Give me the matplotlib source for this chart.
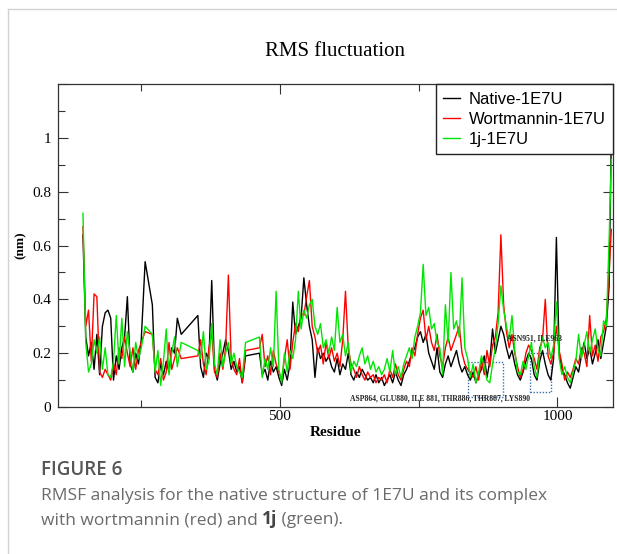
import matplotlib
matplotlib.use("Agg")
import matplotlib.pyplot as plt
from matplotlib.lines import Line2D
from matplotlib.patches import Rectangle
from matplotlib.ticker import FixedLocator, MultipleLocator, FuncFormatter

# =========================
# data
# =========================
residue = [
    # segment 1
    145, 150, 155, 160, 165, 170, 175, 180, 185, 190,
    195, 200, 205, 210, 215, 220, 225, 230, 235, 240,
    245, 250, 257,
    # segment 2
    270, 275, 280, 285, 290, 295, 300, 305, 310, 315,
    322,
    # segment 3
    352, 357, 362, 367, 372, 377, 382, 387, 392, 397,
    402, 407, 412, 417, 422, 427, 432, 438,
    # segment 4
    463, 468, 473, 478, 483, 488, 493, 498, 503, 508,
    513, 518, 523, 528, 533, 538, 543, 548, 553, 558,
    563, 568, 573, 578, 583, 588, 593, 598, 603, 608,
    613, 618, 623, 628, 633, 638, 643, 648, 653, 658,
    663, 668, 673, 678, 683, 688, 693, 698, 703, 708,
    713, 718, 723, 728, 733, 738, 743, 748, 753, 758,
    763, 768, 773, 778, 783, 788, 793, 798, 803, 808,
    813, 818, 823, 828, 833, 838, 843, 848, 853, 858,
    863, 868, 873, 878, 883, 888, 893, 898, 903, 908,
    913, 918, 923, 928, 933, 938, 943, 948, 953, 958,
    963, 968, 973, 978, 983, 988, 993, 998, 1003, 1008,
    1013, 1018, 1023, 1028, 1033, 1038, 1043, 1048, 1053, 1058,
    1063, 1068, 1073, 1078, 1083, 1088, 1093, 1097,
]

native = [
    0.64, 0.26, 0.19, 0.24, 0.14, 0.27, 0.12, 0.30, 0.35, 0.36,
    0.33, 0.10, 0.19, 0.14, 0.22, 0.26, 0.41, 0.16, 0.13, 0.20,
    0.16, 0.25, 0.54,
    0.38, 0.11, 0.09, 0.16, 0.12, 0.17, 0.13, 0.22, 0.20, 0.33,
    0.27,
    0.34, 0.15, 0.11, 0.20, 0.18, 0.47, 0.14, 0.10, 0.16, 0.20,
    0.25, 0.21, 0.14, 0.17, 0.13, 0.15, 0.09, 0.19,
    0.20, 0.12, 0.14, 0.10, 0.17, 0.13, 0.15, 0.11, 0.08, 0.14,
    0.10, 0.16, 0.39, 0.27, 0.30, 0.33, 0.48, 0.38, 0.30, 0.25,
    0.11, 0.22, 0.18, 0.20, 0.17, 0.19, 0.15, 0.13, 0.18, 0.12,
    0.16, 0.14, 0.20, 0.12, 0.10, 0.13, 0.11, 0.14, 0.12, 0.10,
    0.11, 0.09, 0.12, 0.09, 0.11, 0.08, 0.10, 0.12, 0.09, 0.13,
    0.10, 0.08, 0.12, 0.14, 0.17, 0.20, 0.22, 0.26, 0.28, 0.24,
    0.27, 0.20, 0.17, 0.14, 0.22, 0.13, 0.11, 0.16, 0.19, 0.15,
    0.18, 0.21, 0.16, 0.13, 0.15, 0.12, 0.10, 0.13, 0.09, 0.12,
    0.14, 0.19, 0.11, 0.17, 0.29, 0.20, 0.25, 0.30, 0.27, 0.22,
    0.18, 0.21, 0.16, 0.12, 0.10, 0.13, 0.17, 0.20, 0.18, 0.12,
    0.10, 0.17, 0.21, 0.16, 0.12, 0.10, 0.18, 0.63, 0.20, 0.14,
    0.12, 0.09, 0.07, 0.11, 0.15, 0.13, 0.19, 0.24, 0.18, 0.22,
    0.16, 0.20, 0.25, 0.18, 0.24, 0.30, 0.45, 1.01,
]

wortmannin = [
    0.67, 0.30, 0.36, 0.17, 0.42, 0.41, 0.13, 0.11, 0.14, 0.12,
    0.10, 0.16, 0.12, 0.22, 0.18, 0.26, 0.20, 0.15, 0.22, 0.14,
    0.21, 0.24, 0.28,
    0.27, 0.14, 0.12, 0.18, 0.10, 0.13, 0.24, 0.14, 0.18, 0.22,
    0.18,
    0.19, 0.25, 0.16, 0.12, 0.22, 0.28, 0.13, 0.11, 0.20, 0.14,
    0.22, 0.49, 0.18, 0.14, 0.12, 0.18, 0.09, 0.21,
    0.22, 0.27, 0.15, 0.19, 0.12, 0.21, 0.16, 0.13, 0.10, 0.18,
    0.25, 0.14, 0.24, 0.31, 0.28, 0.35, 0.34, 0.41, 0.47, 0.30,
    0.26, 0.20, 0.23, 0.16, 0.24, 0.18, 0.22, 0.17, 0.20, 0.15,
    0.25, 0.43, 0.22, 0.16, 0.14, 0.11, 0.15, 0.12, 0.10, 0.13,
    0.11, 0.12, 0.09, 0.11, 0.10, 0.12, 0.09, 0.14, 0.11, 0.16,
    0.12, 0.10, 0.14, 0.17, 0.15, 0.22, 0.19, 0.27, 0.33, 0.36,
    0.25, 0.30, 0.24, 0.21, 0.27, 0.19, 0.15, 0.22, 0.26, 0.21,
    0.24, 0.27, 0.30, 0.20, 0.16, 0.14, 0.13, 0.11, 0.15, 0.10,
    0.18, 0.12, 0.21, 0.15, 0.23, 0.26, 0.35, 0.64, 0.38, 0.28,
    0.22, 0.27, 0.20, 0.15, 0.11, 0.14, 0.20, 0.23, 0.21, 0.18,
    0.14, 0.22, 0.25, 0.40, 0.19, 0.16, 0.20, 0.30, 0.21, 0.16,
    0.10, 0.13, 0.11, 0.14, 0.18, 0.16, 0.22, 0.20, 0.15, 0.34,
    0.19, 0.23, 0.17, 0.26, 0.28, 0.33, 0.50, 0.66,
]

cmpd_1j = [
    0.72, 0.24, 0.13, 0.16, 0.25, 0.20, 0.26, 0.14, 0.22, 0.12,
    0.11, 0.17, 0.34, 0.16, 0.33, 0.15, 0.28, 0.20, 0.13, 0.24,
    0.18, 0.22, 0.30,
    0.27, 0.13, 0.21, 0.08, 0.17, 0.29, 0.12, 0.20, 0.26, 0.15,
    0.24,
    0.21, 0.18, 0.28, 0.14, 0.17, 0.31, 0.16, 0.12, 0.25, 0.15,
    0.20, 0.24, 0.16, 0.20, 0.15, 0.13, 0.11, 0.24,
    0.26, 0.11, 0.18, 0.14, 0.22, 0.15, 0.43, 0.14, 0.09, 0.20,
    0.13, 0.21, 0.18, 0.25, 0.43, 0.29, 0.36, 0.33, 0.38, 0.40,
    0.30, 0.27, 0.31, 0.22, 0.25, 0.20, 0.26, 0.21, 0.37, 0.24,
    0.27, 0.19, 0.24, 0.13, 0.17, 0.15, 0.19, 0.22, 0.16, 0.19,
    0.14, 0.17, 0.13, 0.15, 0.12, 0.14, 0.18, 0.13, 0.21, 0.12,
    0.15, 0.11, 0.16, 0.19, 0.22, 0.18, 0.26, 0.30, 0.35, 0.53,
    0.34, 0.37, 0.29, 0.31, 0.24, 0.22, 0.12, 0.38, 0.24, 0.50,
    0.29, 0.32, 0.26, 0.48, 0.22, 0.18, 0.11, 0.16, 0.09, 0.13,
    0.19, 0.15, 0.10, 0.09, 0.16, 0.22, 0.31, 0.45, 0.36, 0.30,
    0.25, 0.34, 0.21, 0.13, 0.12, 0.17, 0.14, 0.19, 0.24, 0.15,
    0.11, 0.20, 0.26, 0.22, 0.24, 0.18, 0.23, 0.39, 0.18, 0.12,
    0.15, 0.11, 0.09, 0.13, 0.17, 0.27, 0.18, 0.23, 0.28, 0.20,
    0.25, 0.29, 0.21, 0.19, 0.32, 0.30, 0.62, 0.92,
]

series_labels = ["Native-1E7U", "Wortmannin-1E7U", "1j-1E7U"]
series_colors = ["#000000", "#ff0000", "#00e600"]

# highlighted residue windows: (res start, res end, rmsf low, rmsf high)
boxes = [(838, 901, 0.037, 0.167), (950, 989, 0.056, 0.200)]
box_notes = ["ASP864, GLU880, ILE 881, THR886, THR887, LYS890", "ASN951, ILE963"]
note_pos = [(789, 0.033), (959, 0.253)]

assert len(residue) == len(native) == len(wortmannin) == len(cmpd_1j)

SERIF = "Liberation Serif"
SANS = "Liberation Sans"
CAPTION = ["Open Sans", "DejaVu Sans"]

# =========================
# figure
# =========================
fig = plt.figure(figsize=(6.17, 5.54), dpi=100)

# card border (top + left)
fig.add_artist(Line2D([0.013, 1.0], [0.9838, 0.9838], color="#d2d2d2", lw=1.0))
fig.add_artist(Line2D([0.013, 0.013], [0.0, 0.9838], color="#d2d2d2", lw=1.0))

ax = fig.add_axes([0.094, 0.2653, 0.8995, 0.583])

for ys, lab, col in zip([native, wortmannin, cmpd_1j], series_labels, series_colors):
    ax.plot(residue, ys, color=col, lw=1.0, label=lab)

ax.set_xlim(100, 1100)
ax.set_ylim(0, 1.2)

for (r0, r1, v0, v1) in boxes:
    ax.add_patch(Rectangle((r0, v0), r1 - r0, v1 - v0, fill=False,
                           edgecolor="#3f6fb0", lw=1.0, ls=(0, (1, 1.2))))
for txt, (xr, yv) in zip(box_notes, note_pos):
    ax.text(xr, yv, txt, ha="center", va="center", fontsize=5.5,
            fontweight="bold", family=SERIF, color="#222222")

# ticks
ax.xaxis.set_major_locator(FixedLocator([500, 1000]))
ax.xaxis.set_minor_locator(FixedLocator([250, 750]))
ax.yaxis.set_major_locator(MultipleLocator(0.2))
ax.yaxis.set_minor_locator(MultipleLocator(0.1))
ax.yaxis.set_major_formatter(
    FuncFormatter(lambda v, p: "" if v > 1.1 else "%g" % round(v, 2)))
ax.tick_params(which="both", direction="in", top=True, right=True, width=0.8,
               color="#333333")
ax.tick_params(which="major", length=7)
ax.tick_params(which="minor", length=5)
ax.tick_params(labelsize=11)
for lab in ax.get_xticklabels() + ax.get_yticklabels():
    lab.set_family(SERIF)
ax.tick_params(axis="y", pad=5)
ax.tick_params(axis="x", pad=2)
for sp in ax.spines.values():
    sp.set_color("#333333")
    sp.set_linewidth(0.9)

ax.set_xlabel("Residue", family=SERIF, fontsize=11, fontweight="bold", labelpad=2)
ax.set_ylabel("(nm)", family=SERIF, fontsize=9.5, fontweight="bold", labelpad=4)
ax.set_title("RMS fluctuation", family=SERIF, fontsize=15, pad=20)

leg = ax.legend(loc="upper right", bbox_to_anchor=(1.0, 1.0), borderaxespad=0,
                prop={"family": SANS, "size": 12}, fancybox=False,
                framealpha=1, edgecolor="#222222", handlelength=1.0,
                handletextpad=0.5, labelspacing=0.3, borderpad=0.45)
leg.get_frame().set_linewidth(1.0)

# caption
fig.text(0.066, 0.152, "FIGURE 6", family=CAPTION, fontsize=13.5,
         fontweight="semibold", color="#555555", va="center")
cap_kw = dict(family=CAPTION, fontsize=12.5, color="#6a6a6a")
fig.text(0.066, 0.104, "RMSF analysis for the native structure of 1E7U and its complex",
         va="center", **cap_kw)
t1 = fig.text(0.066, 0.061, "with wortmannin (red) and ", va="center", **cap_kw)
t2 = fig.text(0, 0, "1j", fontweight="bold", va="bottom", ha="left",
              family=CAPTION, fontsize=12.5, color="#444444")
fig.canvas.draw()
r = fig.canvas.get_renderer()
bb = t1.get_window_extent(r).transformed(fig.transFigure.inverted())
t2.set_position((bb.x1, bb.y0))
bb2 = t2.get_window_extent(r).transformed(fig.transFigure.inverted())
fig.text(bb2.x1, bb.y0, " (green).", va="bottom", ha="left", **cap_kw)

fig.savefig("out.png", dpi=100)
